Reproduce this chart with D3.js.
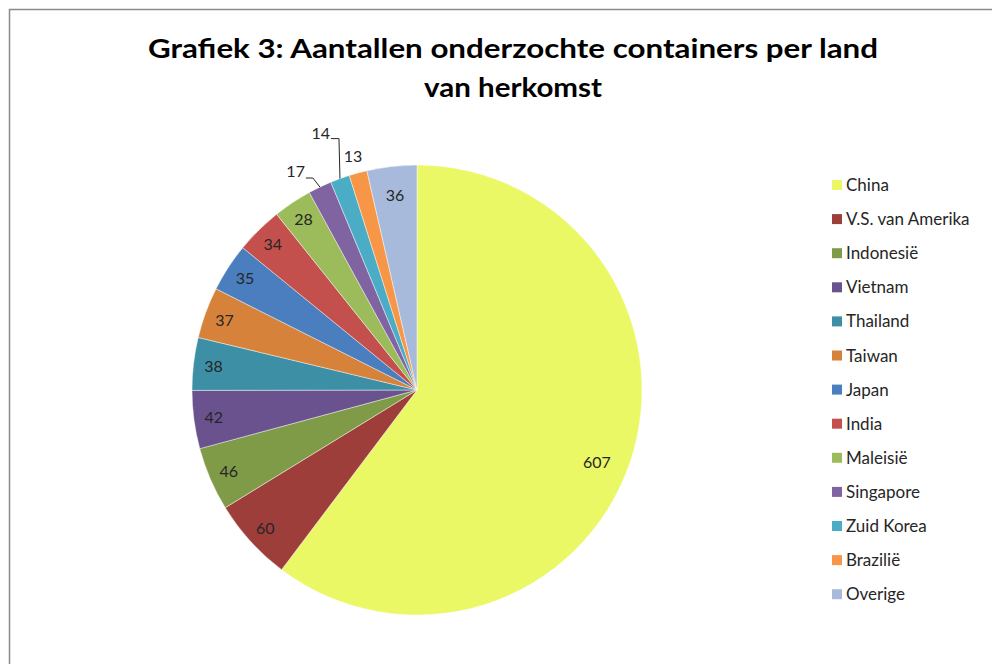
<!DOCTYPE html>
<html>
<head>
<meta charset="utf-8">
<script src="https://cdn.jsdelivr.net/npm/d3@7"></script>
<style>
  html, body { margin: 0; padding: 0; background: #fff; }
  svg { display: block; }
  text { font-family: Lato, "Open Sans", "Liberation Sans", sans-serif; }
</style>
</head>
<body>
<svg id="chart" width="992" height="664"></svg>
<script>
const titleLines = ["Grafiek 3: Aantallen onderzochte containers per land", "van herkomst"];
const categories = ["China", "V.S. van Amerika", "Indonesië", "Vietnam", "Thailand", "Taiwan", "Japan", "India", "Maleisië", "Singapore", "Zuid Korea", "Brazilië", "Overige"];
const values = [607, 60, 46, 42, 38, 37, 35, 34, 28, 17, 14, 13, 36];
const colors = ["#EAF865", "#9E3E3B", "#7F9B48", "#69528E", "#3C8FA4", "#D6823A", "#4A7EBF", "#C4504D", "#9CBB5A", "#8064A2", "#4BACC6", "#F79646", "#A8BADB"];

const svg = d3.select("#chart");
const W = 992, H = 664;

// frame
svg.append("path")
  .attr("d", `M9.5,${H} L9.5,9.5 L${W},9.5`)
  .attr("fill", "none").attr("stroke", "#8a8a8a").attr("stroke-width", 1.5);

// title
const title = svg.append("text")
  .attr("text-anchor", "middle")
  .attr("font-weight", "bold")
  .attr("font-size", 27)
  .attr("fill", "#000");
title.append("tspan").attr("x", 513).attr("y", 58).text(titleLines[0])
  .attr("textLength", 730).attr("lengthAdjust", "spacingAndGlyphs");
title.append("tspan").attr("x", 513).attr("y", 97).text(titleLines[1])
  .attr("textLength", 178).attr("lengthAdjust", "spacingAndGlyphs");

// pie
const cx = 417, cy = 390, R = 225;
const data = categories.map((c, i) => ({ name: c, value: values[i], color: colors[i] }));
const pie = d3.pie().value(d => d.value).sort(null).startAngle(0).endAngle(2 * Math.PI);
const arcs = pie(data);
const arc = d3.arc().innerRadius(0).outerRadius(R);
const g = svg.append("g").attr("transform", `translate(${cx},${cy})`);

g.selectAll("path.slice").data(arcs).join("path")
  .attr("class", "slice")
  .attr("d", arc)
  .attr("fill", d => d.data.color)
  .attr("stroke", "#ffffff")
  .attr("stroke-opacity", 0.55)
  .attr("stroke-width", 0.8);

function polar(a, r) { return [r * Math.sin(a), -r * Math.cos(a)]; }

const outsideSet = new Set(["Singapore", "Zuid Korea", "Brazilië"]);
const lbl = svg.append("g").attr("transform", `translate(${cx},${cy})`);
const fs = 16;

arcs.forEach(d => {
  const mid = (d.startAngle + d.endAngle) / 2;
  const name = d.data.name;
  if (!outsideSet.has(name)) {
    let r = 205;
    let a = mid;
    if (name === "China") { r = 194; a = mid + 0.06; }
    if (name === "Overige") r = 196;
    const [x, y] = polar(a, r);
    lbl.append("text").attr("x", x).attr("y", y + 6)
      .attr("text-anchor", "middle").attr("font-size", fs).attr("fill", "#262626")
      .text(d.data.value);
  } else {
    const [ex, ey] = polar(mid, R);
    if (name === "Singapore") {
      lbl.append("path")
        .attr("d", `M${ex},${ey} L${ex - 7},${ey - 9} L${ex - 14},${ey - 9}`)
        .attr("fill", "none").attr("stroke", "#262626").attr("stroke-width", 1);
      lbl.append("text").attr("x", ex - 15).attr("y", ey - 10)
        .attr("text-anchor", "end").attr("font-size", fs).attr("fill", "#262626")
        .text(d.data.value);
    } else if (name === "Zuid Korea") {
      lbl.append("path")
        .attr("d", `M${ex},${ey} L${ex - 1},${ey - 40} L${ex - 9},${ey - 40}`)
        .attr("fill", "none").attr("stroke", "#262626").attr("stroke-width", 1);
      lbl.append("text").attr("x", ex - 10).attr("y", ey - 40)
        .attr("text-anchor", "end").attr("font-size", fs).attr("fill", "#262626")
        .text(d.data.value);
    } else {
      lbl.append("text").attr("x", ex - 5).attr("y", ey - 11)
        .attr("text-anchor", "middle").attr("font-size", fs).attr("fill", "#262626")
        .text(d.data.value);
    }
  }
});

// legend
const legend = svg.append("g").attr("transform", "translate(832,185)");
const rowH = 34.1;
data.forEach((d, i) => {
  const row = legend.append("g").attr("transform", `translate(0,${i * rowH})`);
  row.append("rect").attr("x", 0).attr("y", -5).attr("width", 10).attr("height", 10).attr("fill", d.color);
  row.append("text").attr("x", 14).attr("y", 6).attr("font-size", 17).attr("fill", "#262626")
    .text(d.name);
});
</script>
</body>
</html>
